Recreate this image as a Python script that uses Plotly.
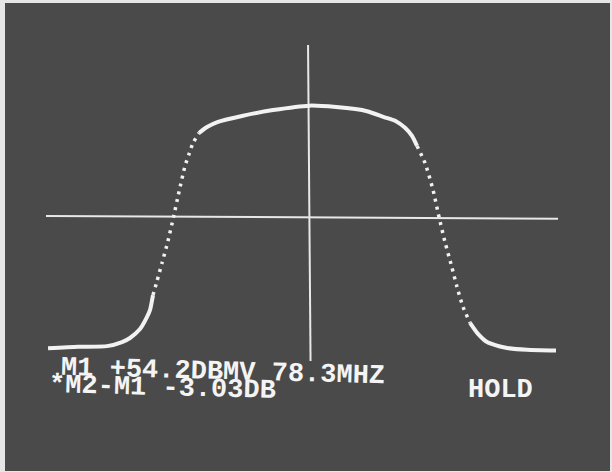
import plotly.graph_objects as go

# Trace: frequency (MHz) and level (dBmV)
freq_mhz = [73.173, 73.761, 74.329, 74.624, 74.780, 74.976, 75.114, 75.173,
            75.231, 75.310, 75.408, 75.525, 75.633, 75.741, 75.859, 75.937,
            76.016, 76.133, 76.290, 76.506, 76.976, 77.584, 78.300, 78.820,
            79.427, 79.761, 79.996, 80.173, 80.310, 80.408, 80.565, 80.722,
            80.839, 80.957, 81.084, 81.192, 81.310, 81.447, 81.604, 81.780,
            82.035, 82.173, 82.565, 83.133]
level_dbmv = [47.65, 47.69, 47.71, 47.82, 47.93, 48.17, 48.50, 48.69,
              49.09, 49.47, 49.96, 50.55, 51.20, 51.88, 52.58, 52.90,
              53.20, 53.47, 53.63, 53.77, 53.93, 54.09, 54.21, 54.17,
              54.06, 53.90, 53.79, 53.61, 53.39, 53.12, 52.66, 51.93,
              51.20, 50.52, 49.88, 49.31, 48.77, 48.34, 48.04, 47.82,
              47.70, 47.66, 47.61, 47.59]

# Marker (vertical) line and display line (horizontal)
marker_f = [78.271, 78.320]
marker_l = [55.85, 47.31]
display_f = [73.133, 83.173]
display_l = [51.23, 51.15]

readout_lines = ["M1 +54.2DBMV 78.3MHZ", "*M2-M1 -3.03DB"]
status_text = "HOLD"

# segments of the trace: (start index, end index, drawn solid?)
segments = [(0, 8, True), (8, 17, False), (17, 29, True), (29, 37, False), (37, 43, True)]

SCREEN = "#4a4a4a"
TRACE = "#f2f2f2"

fig = go.Figure()

fig.add_trace(go.Scatter(x=display_f, y=display_l, mode="lines",
                         line=dict(color="#e8e8e8", width=2), hoverinfo="skip"))
fig.add_trace(go.Scatter(x=marker_f, y=marker_l, mode="lines",
                         line=dict(color="#e8e8e8", width=2), hoverinfo="skip"))

for a, b, solid in segments:
    fig.add_trace(go.Scatter(
        x=freq_mhz[a:b + 1], y=level_dbmv[a:b + 1], mode="lines",
        line=dict(color=TRACE, width=4 if solid else 3.5,
                  shape="spline", smoothing=0.6,
                  dash="solid" if solid else "3px,5px"),
        hoverinfo="skip"))

font = dict(family="Liberation Mono", size=27, color="#f4f4f4", weight="bold")
fig.add_annotation(text=readout_lines[0], xref="paper", yref="paper",
                   x=223 / 612, y=1 - 372 / 472, showarrow=False,
                   xanchor="center", yanchor="middle", textangle=1.5, font=font)
fig.add_annotation(text=readout_lines[1], xref="paper", yref="paper",
                   x=162.5 / 612, y=1 - 388 / 472, showarrow=False,
                   xanchor="center", yanchor="middle", textangle=1.5, font=font)
fig.add_annotation(text=status_text, xref="paper", yref="paper",
                   x=500 / 612, y=1 - 390 / 472, showarrow=False,
                   xanchor="center", yanchor="middle", font=font)

# light photo border around the screen
edge = "#e6e6e6"
for x0, x1, y0, y1 in [(0, 5 / 612, 0, 1), (0, 1, 1 - 3 / 472, 1),
                       (1 - 2 / 612, 1, 0, 1), (0, 1, 0, 1 / 472)]:
    fig.add_shape(type="rect", xref="paper", yref="paper", x0=x0, x1=x1,
                  y0=y0, y1=y1, fillcolor=edge, line=dict(width=0), layer="above")

fig.update_layout(
    width=612, height=472, margin=dict(l=0, r=0, t=0, b=0),
    paper_bgcolor=SCREEN, plot_bgcolor=SCREEN, showlegend=False,
    xaxis=dict(range=[72.231, 84.231], visible=False, fixedrange=True),
    yaxis=dict(range=[44.308, 57.065], visible=False, fixedrange=True),
)

fig.write_html("out.html", config={"displayModeBar": False},
               post_script="document.body.style.margin='0';"
                           "document.body.style.overflow='hidden';")
